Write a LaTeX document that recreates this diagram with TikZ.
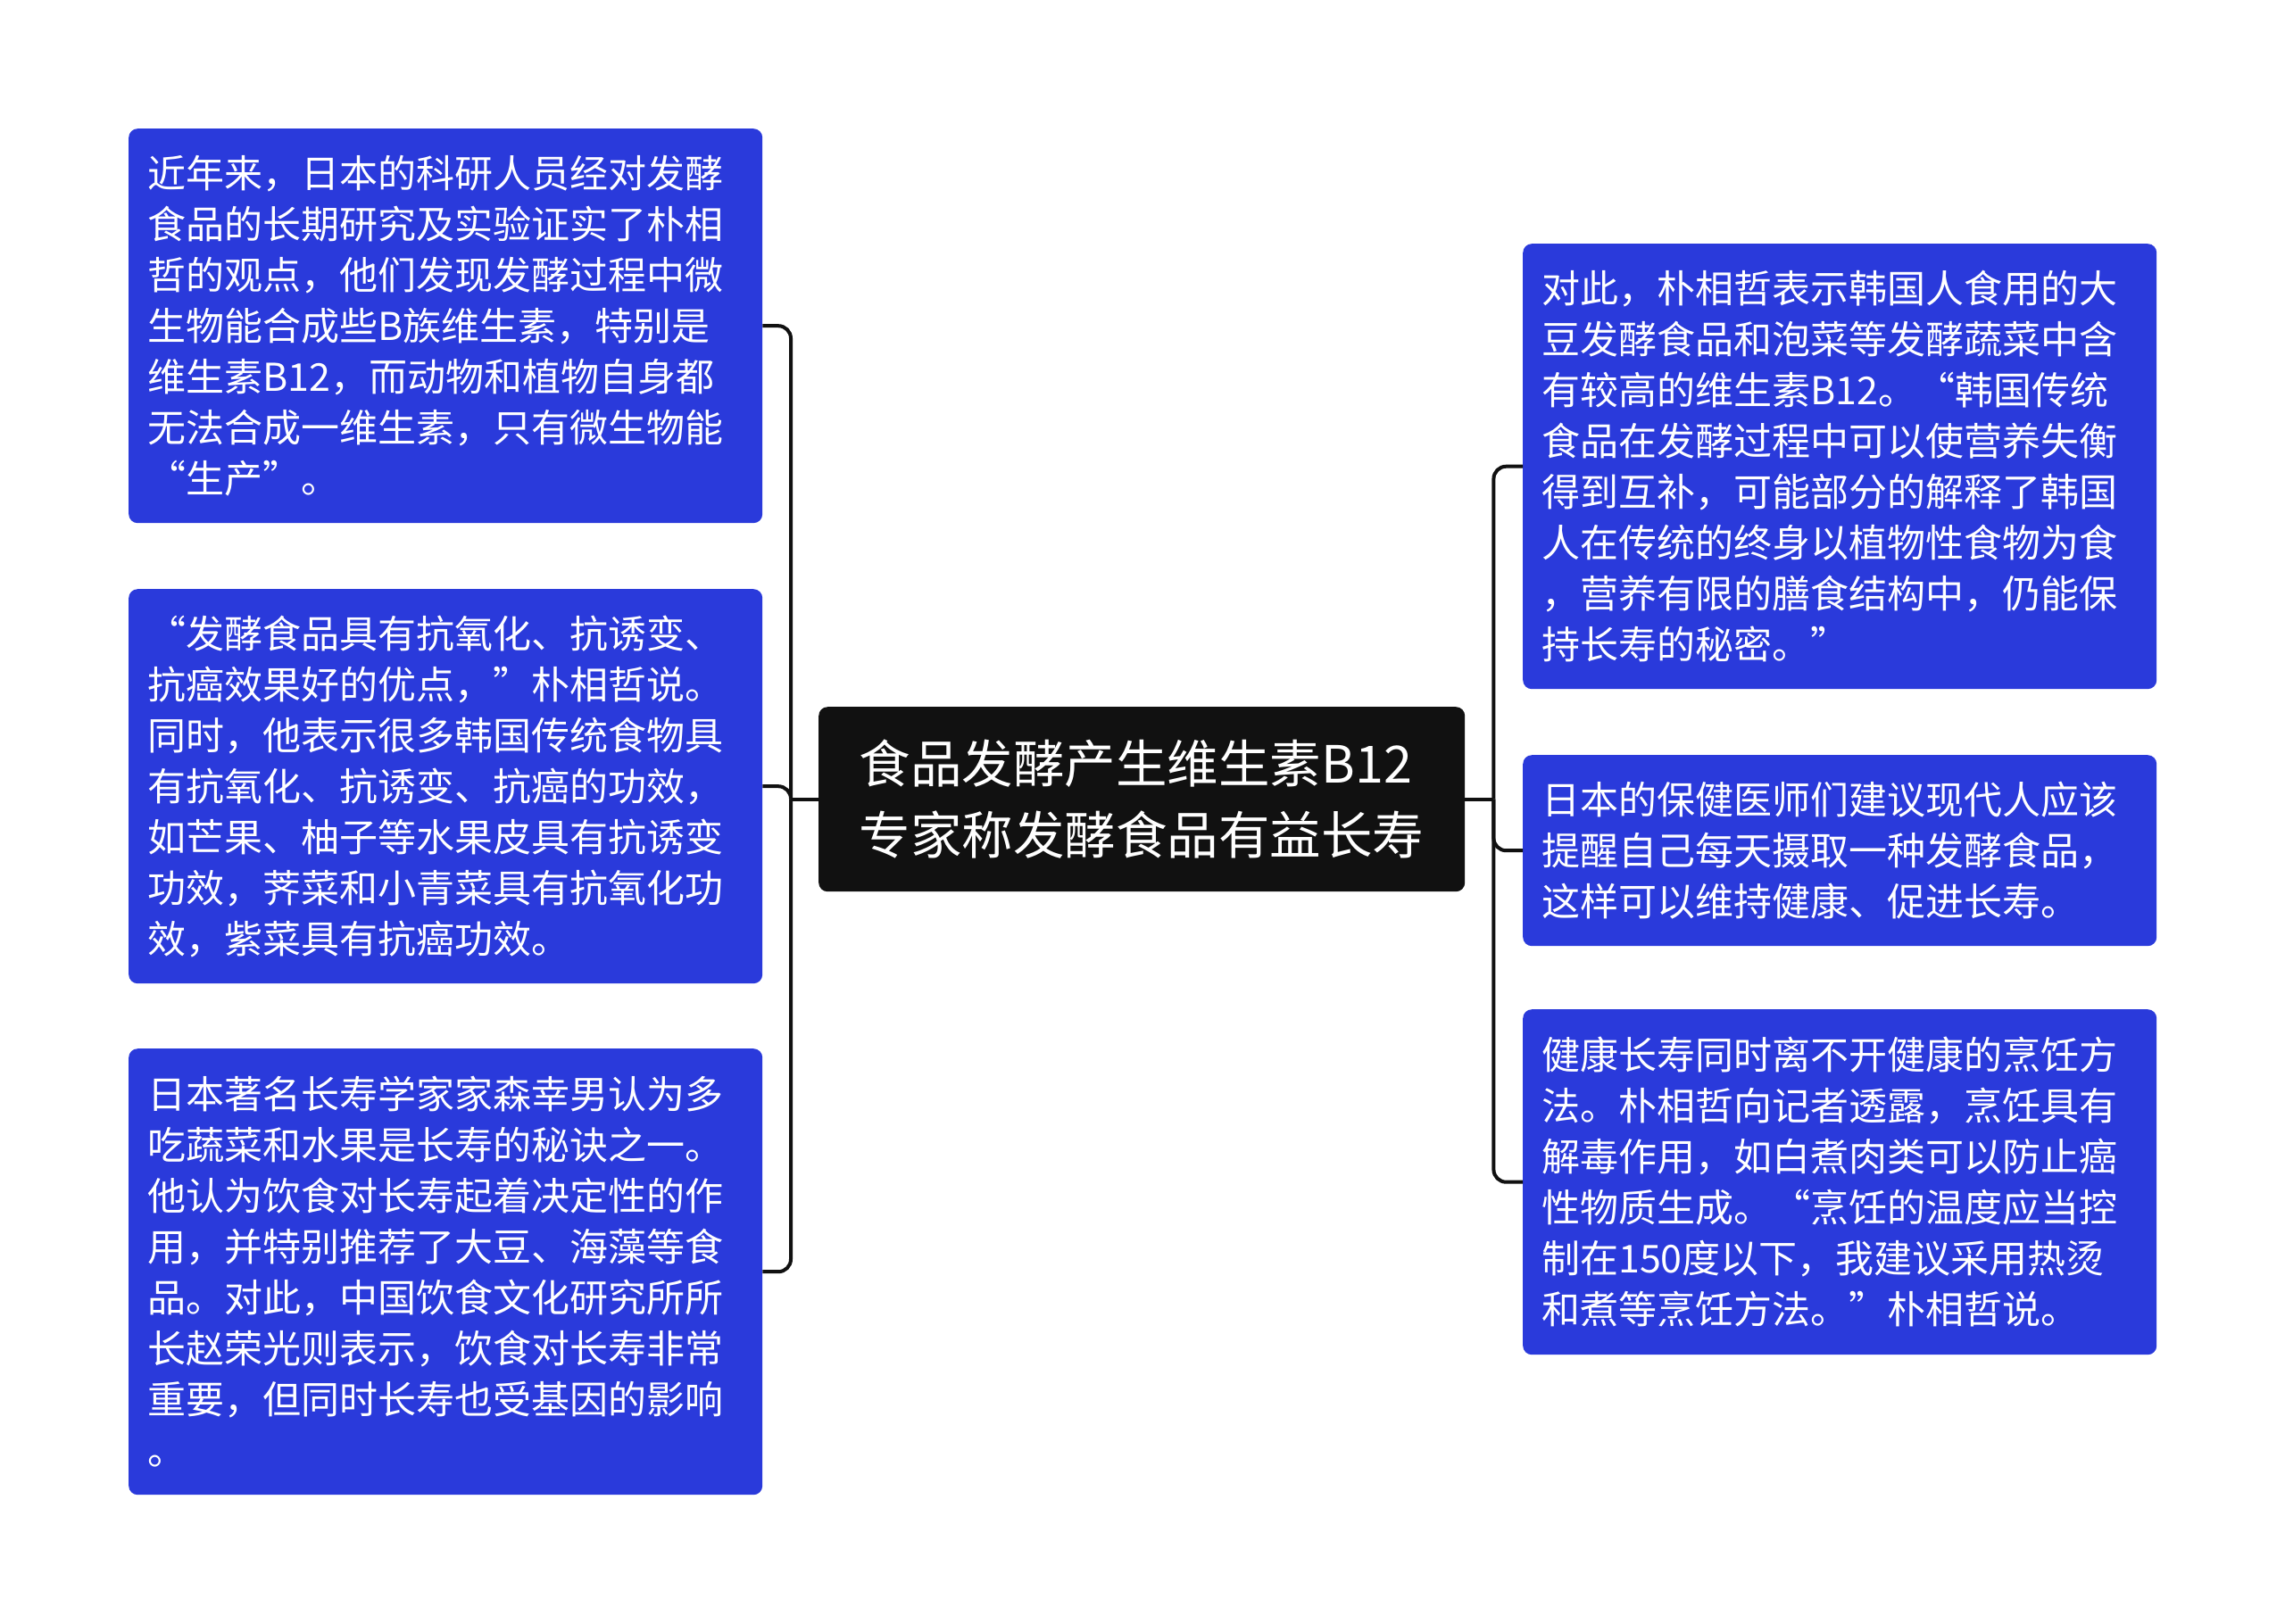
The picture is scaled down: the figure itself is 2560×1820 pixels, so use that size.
\documentclass[tikz,border=0pt]{standalone}
\usepackage{fontspec}
\newfontfamily\cjk{Noto Sans CJK SC}
\definecolor{boxblue}{RGB}{42,58,219}
\definecolor{rootblack}{RGB}{17,17,17}
\begin{document}
\begin{tikzpicture}[x=1pt,y=-1pt,
  leaf/.style={fill=boxblue, rounded corners=10pt, text=white, inner xsep=21pt, inner ysep=0pt,
    text width=668pt, align=left, anchor=north west, font=\cjk\fontsize{43}{57}\selectfont},
  rootbox/.style={fill=rootblack, rounded corners=10pt, text=white, minimum width=724pt,
    minimum height=207pt, anchor=north west, align=left, inner sep=0pt,
    font=\cjk\fontsize{57.5}{80}\selectfont},
  conn/.style={draw=rootblack, line width=4pt, rounded corners=14pt}]
\useasboundingbox (0,0) rectangle (2560,1820);
\fill[white] (0,0) rectangle (2560,1820);

\node[rootbox] (root) at (917,792) {食品发酵产生维生素B12\\专家称发酵食品有益长寿};

\node[leaf, minimum height=442pt] (L1) at (144,144) {近年来，日本的科研人员经对发酵\\食品的长期研究及实验证实了朴相\\哲的观点，他们发现发酵过程中微\\生物能合成些B族维生素，特别是\\维生素B12，而动物和植物自身都\\无法合成一维生素，只有微生物能\\“生产”。};

\node[leaf, minimum height=442pt] (L2) at (144,660) {“发酵食品具有抗氧化、抗诱变、\\抗癌效果好的优点，”朴相哲说。\\同时，他表示很多韩国传统食物具\\有抗氧化、抗诱变、抗癌的功效，\\如芒果、柚子等水果皮具有抗诱变\\功效，荠菜和小青菜具有抗氧化功\\效，紫菜具有抗癌功效。};

\node[leaf, minimum height=500pt] (L3) at (144,1175) {日本著名长寿学家家森幸男认为多\\吃蔬菜和水果是长寿的秘诀之一。\\他认为饮食对长寿起着决定性的作\\用，并特别推荐了大豆、海藻等食\\品。对此，中国饮食文化研究所所\\长赵荣光则表示，饮食对长寿非常\\重要，但同时长寿也受基因的影响\\。};

\node[leaf, minimum height=499pt] (R1) at (1706,273) {对此，朴相哲表示韩国人食用的大\\豆发酵食品和泡菜等发酵蔬菜中含\\有较高的维生素B12。“韩国传统\\食品在发酵过程中可以使营养失衡\\得到互补，可能部分的解释了韩国\\人在传统的终身以植物性食物为食\\，营养有限的膳食结构中，仍能保\\持长寿的秘密。”};

\node[leaf, minimum height=214pt] (R2) at (1706,846) {日本的保健医师们建议现代人应该\\提醒自己每天摄取一种发酵食品，\\这样可以维持健康、促进长寿。};

\node[leaf, minimum height=387pt] (R3) at (1706,1131) {健康长寿同时离不开健康的烹饪方\\法。朴相哲向记者透露，烹饪具有\\解毒作用，如白煮肉类可以防止癌\\性物质生成。“烹饪的温度应当控\\制在150度以下，我建议采用热烫\\和煮等烹饪方法。”朴相哲说。};

\coordinate (JL) at ([xshift=-31pt]root.west);
\coordinate (JR) at ([xshift=32pt]root.east);
\draw[conn] (root.west) -- (JL);
\draw[conn] (JL) |- (L1.east);
\draw[conn] (JL) |- (L2.east);
\draw[conn] (JL) |- (L3.east);
\draw[conn] (root.east) -- (JR);
\draw[conn] (JR) |- (R1.west);
\draw[conn] (JR) |- (R2.west);
\draw[conn] (JR) |- (R3.west);
\end{tikzpicture}
\end{document}
